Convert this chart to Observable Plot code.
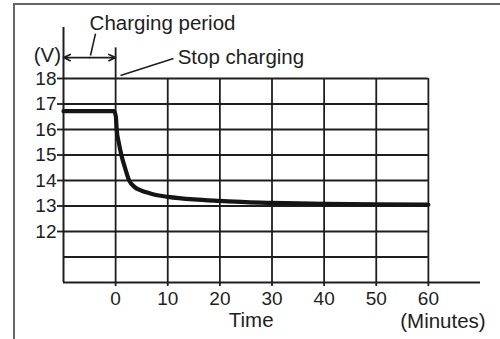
<!DOCTYPE html>
<html>
<head>
<meta charset="utf-8">
<script src="https://cdn.jsdelivr.net/npm/d3@7"></script>
<script src="https://cdn.jsdelivr.net/npm/@observablehq/plot@0.6"></script>
<style>
  html, body { margin: 0; padding: 0; background: #fff; }
  #wrap { position: relative; width: 500px; height: 339px; overflow: hidden; }
  #frame { position: absolute; left: 13px; top: 3px; width: 500px; height: 400px;
           border-top: 2px solid #666; border-left: 2px solid #666; }
  #chart { position: absolute; left: 0; top: 0; }
</style>
</head>
<body>
<div id="wrap"><div id="frame"></div><div id="chart"></div></div>
<script>
// Series: battery voltage (V) against time (minutes)
const time  = [-10, -0.3, 0.05, 0.2, 0.6, 1.1, 1.8, 2.6, 3.6, 5.0, 6.5, 8.0, 10, 15, 20, 25, 30, 40, 50, 60];
const volts = [16.72, 16.72, 16.5, 16.0, 15.5, 15.0, 14.5, 14.0, 13.75, 13.6, 13.5, 13.42, 13.36, 13.26, 13.2, 13.15, 13.12, 13.08, 13.06, 13.05];

// Axes / grid
const xTicks = [0, 10, 20, 30, 40, 50, 60];
const yTicks = [12, 13, 14, 15, 16, 17, 18];
const gridH  = [11, 12, 13, 14, 15, 16, 17, 18];

// Text annotations
const centeredLabels = [
  {t: -13.1, v: 18.9, text: "(V)"},
  {t: 9.0,   v: 20.15, text: "Charging period"},
  {t: 26.0,  v: 8.5, text: "Time"},
  {t: 62.8,  v: 8.47, text: "(Minutes)"}
];
const startLabels = [
  {t: 11.9, v: 18.82, text: "Stop charging"}
];
const leaders = [
  {t1: -3.86, v1: 19.76, t2: -4.82, v2: 18.9},
  {t1: 11.1,  v1: 18.78, t2: 0.94,  v2: 18.12}
];
const bracket = [
  {t1: -5, v1: 18.82, t2: -10, v2: 18.82},
  {t1: -5, v1: 18.82, t2: 0,   v2: 18.82}
];

const series = time.map((t, i) => ({t, v: volts[i]}));
const ink = "#1e1e1e";

const chart = Plot.plot({
  width: 500,
  height: 339,
  marginLeft: 63,
  marginRight: 20,
  marginTop: 27,
  marginBottom: 57,
  style: {fontFamily: "'Liberation Sans', Arial, Helvetica, sans-serif", fontSize: "19px", color: ink, background: "transparent"},
  x: {domain: [-10, 70]},
  y: {domain: [10, 20]},
  marks: [
    Plot.ruleY(gridH, {x1: -10, x2: 60, stroke: ink, strokeWidth: 1.8}),
    Plot.ruleX(xTicks, {y1: 10, y2: 18, stroke: ink, strokeWidth: 1.8}),
    Plot.ruleX([0], {y1: 18, y2: 19.2, stroke: ink, strokeWidth: 1.8}),
    Plot.ruleX([-10], {y1: 10, y2: 20, stroke: ink, strokeWidth: 2}),
    Plot.ruleY([10], {x1: -10, x2: 70, stroke: ink, strokeWidth: 2}),
    Plot.axisY({ticks: yTicks, tickSize: 6, tickPadding: 1, label: null, stroke: ink, strokeWidth: 1.8, fill: ink, fontSize: 19}),
    Plot.axisX({ticks: xTicks, tickSize: 4, tickPadding: 5, label: null, stroke: ink, strokeWidth: 1.8, fill: ink, fontSize: 19}),
    Plot.line(series, {x: "t", y: "v", curve: "monotone-x", stroke: "#151515", strokeWidth: 4.2, strokeLinejoin: "round"}),
    Plot.link(leaders, {x1: "t1", y1: "v1", x2: "t2", y2: "v2", stroke: ink, strokeWidth: 1.6}),
    Plot.arrow(bracket, {x1: "t1", y1: "v1", x2: "t2", y2: "v2", stroke: ink, strokeWidth: 1.6, headLength: 7, headAngle: 50, insetEnd: 0}),
    Plot.text(centeredLabels, {x: "t", y: "v", text: "text", textAnchor: "middle", fill: ink, fontSize: 20.5}),
    Plot.text(startLabels, {x: "t", y: "v", text: "text", textAnchor: "start", fill: ink, fontSize: 20.5})
  ]
});
document.getElementById("chart").appendChild(chart);
</script>
</body>
</html>
